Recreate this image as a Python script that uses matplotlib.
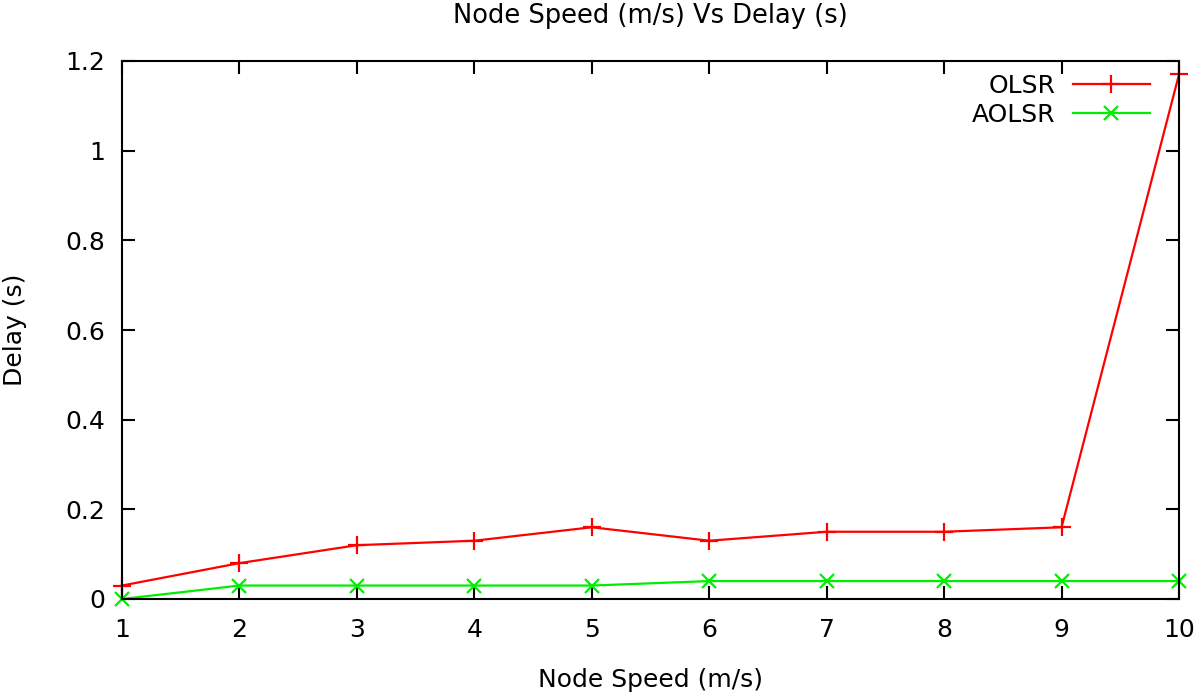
import matplotlib
matplotlib.use("Agg")
import matplotlib.pyplot as plt

speed = [1, 2, 3, 4, 5, 6, 7, 8, 9, 10]
olsr = [0.03, 0.08, 0.12, 0.13, 0.16, 0.13, 0.15, 0.15, 0.16, 1.17]
aolsr = [0.0, 0.03, 0.03, 0.03, 0.03, 0.04, 0.04, 0.04, 0.04, 0.04]
yticks = [0, 0.2, 0.4, 0.6, 0.8, 1.0, 1.2]
yticklabels = ["0", "0.2", "0.4", "0.6", "0.8", "1", "1.2"]

plt.rcParams['font.family'] = ['DejaVu Sans']
fig = plt.figure(figsize=(12, 6.97), dpi=100)
ax = fig.add_axes([122 / 1200, 1 - 599 / 697, 1057 / 1200, 538 / 697])

ax.plot(speed, olsr, color='#ff0000', lw=1.6, marker='+', ms=13, mew=1.6, label='OLSR', clip_on=False)
ax.plot(speed, aolsr, color='#00ee00', lw=1.6, marker='x', ms=10, mew=1.6, label='AOLSR', clip_on=False)

ax.set_xlim(1, 10)
ax.set_ylim(0, 1.2)
ax.set_xticks(speed)
ax.set_yticks(yticks)
ax.set_yticklabels(yticklabels)
ax.tick_params(direction='in', top=True, right=True, length=9.5, width=1.5, labelsize=18)
ax.tick_params(axis='x', pad=14)
ax.tick_params(axis='y', pad=12)
for s in ax.spines.values():
    s.set_linewidth(1.5)

fig.text(0.5417, 1 - 16 / 697, 'Node Speed (m/s) Vs Delay (s)', fontsize=18.5, ha='center', va='center')
fig.text(0.5425, 1 - 680 / 697, 'Node Speed (m/s)', fontsize=18, ha='center', va='center')
fig.text(15 / 1200, 0.5 * (1 - 599 / 697) + 0.5 * (1 - 61 / 697), 'Delay (s)', fontsize=18,
         ha='center', va='center', rotation=90)

leg = ax.legend(loc='upper right', markerfirst=False, frameon=False, fontsize=18,
                handlelength=3.1, handletextpad=0.7, borderpad=0, borderaxespad=0,
                labelspacing=0.2, bbox_to_anchor=((1150 - 122) / 1057, (599 - 74) / 538))
for t in leg.get_texts():
    t.set_ha('right')

fig.savefig('out.png', dpi=100)
